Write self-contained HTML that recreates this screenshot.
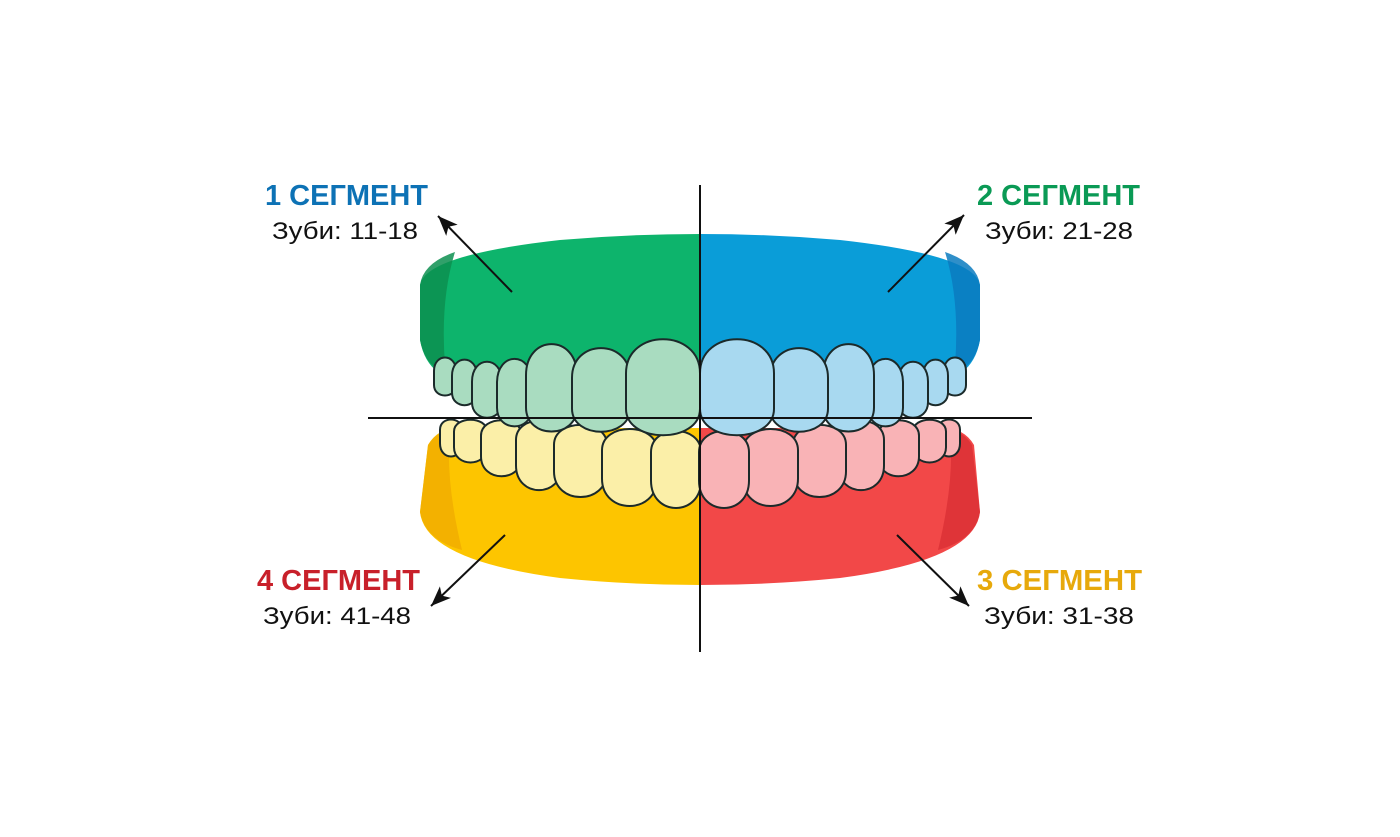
<!DOCTYPE html>
<html><head><meta charset="utf-8"><style>
html,body{margin:0;padding:0;background:#fff;}
svg{display:block;}
</style></head><body>
<svg id="s" width="1400" height="837" viewBox="0 0 1400 837" xmlns="http://www.w3.org/2000/svg">
<defs>
<clipPath id="L"><rect x="0" y="0" width="700" height="837"/></clipPath>
<clipPath id="R"><rect x="700" y="0" width="700" height="837"/></clipPath>
<path id="lg" d="M428,445 Q440,424 470,428 L930,428 Q962,424 974,445 L980,512 Q975,560 840,578 Q700,592 560,578 Q425,560 420,512 Z"/>
<path id="ug" d="M420,285 Q425,255 560,240 Q700,228 840,240 Q975,255 980,285 L980,340 Q976,362 962,372 L438,372 Q424,362 420,340 Z"/>
<marker id="ar" markerWidth="22" markerHeight="16" refX="20" refY="8" orient="auto" markerUnits="userSpaceOnUse" viewBox="0 0 22 16"><path d="M0,0 L20,8 L0,16 L5,8 Z" fill="#111"/></marker>
</defs>
<g id="lower">
<use href="#lg" fill="#fdc500" clip-path="url(#L)"/>
<use href="#lg" fill="#f24848" clip-path="url(#R)"/>
<path d="M420,512 L428,445 Q436,432 450,430 Q445,480 462,550 Q425,540 420,512Z" fill="#f0ab00" opacity="0.8"/>
<path d="M980,512 L972,445 Q964,432 950,430 Q955,480 938,550 Q975,540 980,512Z" fill="#d92f35" opacity="0.8"/>
</g>
<g id="lt"></g>
<g id="upper">
<use href="#ug" fill="#0db46c" clip-path="url(#L)"/>
<use href="#ug" fill="#0a9dd8" clip-path="url(#R)"/>
<path d="M420,285 Q423,263 455,252 Q440,300 445,365 L436,368 Q424,360 420,340Z" fill="#0d8f50" opacity="0.85"/>
<path d="M980,285 Q977,263 945,252 Q960,300 955,365 L964,368 Q976,360 980,340Z" fill="#0b7bc0" opacity="0.85"/>
</g>
<g id="ut"></g>
<line x1="700" y1="185" x2="700" y2="652" stroke="#111" stroke-width="2"/>
<line x1="368" y1="418" x2="1032" y2="418" stroke="#111" stroke-width="2"/>
<g stroke="#111" stroke-width="2" marker-end="url(#ar)">
<line x1="512" y1="292" x2="438" y2="216"/>
<line x1="888" y1="292" x2="964" y2="215"/>
<line x1="505" y1="535" x2="431" y2="606"/>
<line x1="897" y1="535" x2="969" y2="606"/>
</g>
<g font-family="Liberation Sans, sans-serif">
<text x="265" y="205" font-size="29" font-weight="bold" fill="#0d72b5" textLength="163" lengthAdjust="spacingAndGlyphs">1 СЕГМЕНТ</text>
<text x="272" y="239" font-size="24" fill="#111" textLength="146" lengthAdjust="spacingAndGlyphs">Зуби: 11-18</text>
<text x="977" y="205" font-size="29" font-weight="bold" fill="#0a9a55" textLength="163" lengthAdjust="spacingAndGlyphs">2 СЕГМЕНТ</text>
<text x="985" y="239" font-size="24" fill="#111" textLength="148" lengthAdjust="spacingAndGlyphs">Зуби: 21-28</text>
<text x="257" y="590" font-size="29" font-weight="bold" fill="#c8202a" textLength="163" lengthAdjust="spacingAndGlyphs">4 СЕГМЕНТ</text>
<text x="263" y="624" font-size="24" fill="#111" textLength="148" lengthAdjust="spacingAndGlyphs">Зуби: 41-48</text>
<text x="977" y="590" font-size="29" font-weight="bold" fill="#e7a90b" textLength="165" lengthAdjust="spacingAndGlyphs">3 СЕГМЕНТ</text>
<text x="984" y="624" font-size="24" fill="#111" textLength="150" lengthAdjust="spacingAndGlyphs">Зуби: 31-38</text>
</g>
</svg>
<script>
var NS="http://www.w3.org/2000/svg";
function tooth(g,x1,x2,t,b,up,fill){
 var h=b-t,d,s1,s2;
 if(up){
  s1=t+0.35*h; s2=b-0.3*h;
  d="M"+x1+","+s1+" C"+x1+","+(t-0.1*h)+" "+x2+","+(t-0.1*h)+" "+x2+","+s1+" L"+x2+","+s2+" C"+x2+","+(b+0.05*h)+" "+x1+","+(b+0.05*h)+" "+x1+","+s2+"Z";
 } else {
  s1=t+0.3*h; s2=b-0.35*h;
  d="M"+x1+","+s1+" C"+x1+","+(t-0.05*h)+" "+x2+","+(t-0.05*h)+" "+x2+","+s1+" L"+x2+","+s2+" C"+x2+","+(b+0.1*h)+" "+x1+","+(b+0.1*h)+" "+x1+","+s2+"Z";
 }
 var p=document.createElementNS(NS,"path");p.setAttribute("d",d);p.setAttribute("fill",fill);
 p.setAttribute("stroke","#1b2a2a");p.setAttribute("stroke-width","2");g.appendChild(p);
}
var U=[[434,456,357,397],[452,477,359,407],[472,502,361,420],[497,532,358,429],[526,577,343,435],[572,630,347,435],[626,700,338,439]];
var Lw=[[440,462,418,457],[454,487,418,463],[481,522,418,477],[516,562,418,491],[554,607,422,498],[602,657,426,507],[651,701,428,509]];
var ut=document.getElementById("ut"),lt=document.getElementById("lt");
Lw.forEach(function(t){tooth(lt,t[0],t[1],t[2],t[3],false,"#fbefa8");tooth(lt,1400-t[1],1400-t[0],t[2],t[3],false,"#f9b3b6");});
U.forEach(function(t){tooth(ut,t[0],t[1],t[2],t[3],true,"#a9dcc0");tooth(ut,1400-t[1],1400-t[0],t[2],t[3],true,"#a8d9f0");});
</script>
</body></html>
